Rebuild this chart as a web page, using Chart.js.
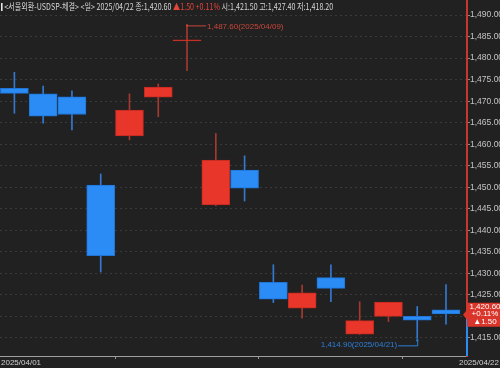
<!DOCTYPE html>
<html>
<head>
<meta charset="utf-8">
<script src="https://cdn.jsdelivr.net/npm/chart.js@4.4.1/dist/chart.umd.min.js"></script>
<style>
  body { margin: 0; background: #212121; }
  #wrap { position: relative; width: 500px; height: 368px; }
  #header {
    position: absolute; left: 1px; top: 0px;
    font: 9px "Noto Sans CJK KR", "Liberation Sans", sans-serif;
    color: #d6d6d6; white-space: nowrap; transform-origin: 0 0;
  }
  #header .mark { display: inline-block; width: 2px; height: 8px; background: #e8e8e8; margin-right: 2px; vertical-align: -1px; }
  #header .up { color: #e2453a; }
</style>
</head>
<body>
<div id="wrap">
  <canvas id="candle-chart"></canvas>
  <div id="header"></div>
</div>
<script>
const dates = [
  "2025/04/01", "2025/04/02", "2025/04/03", "2025/04/04", "2025/04/07",
  "2025/04/08", "2025/04/09", "2025/04/10", "2025/04/11", "2025/04/14",
  "2025/04/15", "2025/04/16", "2025/04/17", "2025/04/18", "2025/04/21",
  "2025/04/22",
];
const openVals = [1473.0, 1471.7, 1471.0, 1450.5, 1461.9, 1470.9, 1484.0, 1445.9, 1454.0, 1427.9, 1421.9, 1429.0, 1415.9, 1420.0, 1420.0, 1421.5];
const highVals = [1476.7, 1473.5, 1472.4, 1453.1, 1471.7, 1474.0, 1487.6, 1462.5, 1457.3, 1432.0, 1427.3, 1432.0, 1423.4, 1423.3, 1422.3, 1427.4];
const lowVals = [1467.2, 1464.9, 1463.3, 1430.3, 1461.0, 1466.4, 1477.1, 1445.7, 1446.8, 1423.2, 1419.6, 1423.4, 1415.8, 1418.8, 1414.9, 1418.2];
const closeVals = [1471.8, 1466.5, 1466.9, 1434.1, 1467.9, 1473.3, 1484.1, 1456.3, 1449.8, 1424.0, 1425.5, 1426.5, 1419.0, 1423.3, 1419.1, 1420.6];

const tickValues = [1415, 1420, 1425, 1430, 1435, 1440, 1445, 1450, 1455, 1460, 1465, 1470, 1475, 1480, 1485, 1490];
const yMin = 1410.8;
const yMax = 1493.5;

const upColor = "#e8372a";
const downColor = "#2b8cf6";
const upEdge = "#c22a1f";
const downEdge = "#1f74d6";
const upWick = "#a5392f";
const downWick = "#3479cf";
const tickFont = { family: "'Liberation Sans Narrow', 'Liberation Sans', sans-serif", size: 8.5 };

const fmt = (v) =>
  v.toLocaleString("en-US", { minimumFractionDigits: 2, maximumFractionDigits: 2 });

const isUp = closeVals.map((c, i) => c >= openVals[i]);
const last = closeVals.length - 1;
const change = closeVals[last] - closeVals[last - 1];
const changePct = (change / closeVals[last - 1]) * 100;

// week boundaries (mondays) get a tick mark on the date axis
const weekStarts = [];
dates.forEach((d, i) => {
  if (i > 0 && new Date(d.replace(/\//g, "-")).getDay() === 1) weekStarts.push(i - 0.5);
});

// HEADER

const header = document.getElementById("header");
header.innerHTML =
  '<span class="mark"></span>&lt;서울외환-USDSP-체결&gt; &lt;일&gt; ' + dates[last] +
  " 종:" + fmt(closeVals[last]) +
  ' <span class="up">' + (change >= 0 ? "▲" : "▼") + Math.abs(change).toFixed(2) +
  " " + (change >= 0 ? "+" : "") + changePct.toFixed(2) + "%</span>" +
  " 시:" + fmt(openVals[last]) + " 고:" + fmt(highVals[last]) + " 저:" + fmt(lowVals[last]);
header.style.transform = "scaleX(" + 332 / header.offsetWidth + ")";

// OVERLAY: price marker, high/low notes, date labels

const overlay = {
  id: "overlay",
  afterDraw(chart) {
    const { ctx, chartArea, scales } = chart;
    const x = scales.x;
    const y = scales.y;
    ctx.save();

    // lower part of price axis line is blue
    const cy = y.getPixelForValue(closeVals[last]);
    ctx.strokeStyle = downColor;
    ctx.lineWidth = 2;
    ctx.beginPath();
    ctx.moveTo(chartArea.right, cy);
    ctx.lineTo(chartArea.right, chartArea.bottom);
    ctx.stroke();

    // current price box
    ctx.fillStyle = "#d9352b";
    ctx.beginPath();
    ctx.moveTo(chartArea.right - 4, cy + 1);
    ctx.lineTo(chartArea.right, cy - 4);
    ctx.lineTo(chartArea.right, cy - 11);
    ctx.lineTo(500, cy - 11);
    ctx.lineTo(500, cy + 13);
    ctx.lineTo(chartArea.right, cy + 13);
    ctx.lineTo(chartArea.right, cy + 6);
    ctx.closePath();
    ctx.fill();
    ctx.fillStyle = "#ffffff";
    ctx.font = "8px " + tickFont.family;
    ctx.textAlign = "center";
    ctx.textBaseline = "middle";
    const bx = chartArea.right + 18;
    ctx.fillText(fmt(closeVals[last]), bx, cy - 7);
    ctx.fillText((change >= 0 ? "+" : "") + changePct.toFixed(2) + "%", bx, cy);
    ctx.fillText((change >= 0 ? "▲" : "▼") + Math.abs(change).toFixed(2), bx, cy + 8);

    // period high
    const hi = highVals.indexOf(Math.max(...highVals));
    const hx = x.getPixelForValue(hi);
    const hy = y.getPixelForValue(highVals[hi]);
    ctx.strokeStyle = "#c9463a";
    ctx.fillStyle = "#c9463a";
    ctx.lineWidth = 1;
    ctx.beginPath();
    ctx.moveTo(hx, hy + 0.5);
    ctx.lineTo(hx + 19, hy + 0.5);
    ctx.stroke();
    ctx.fillRect(hx - 1, hy - 1, 2, 2);
    ctx.textAlign = "left";
    ctx.fillText(fmt(highVals[hi]) + "(" + dates[hi] + ")", hx + 20, hy + 1);

    // period low
    const lo = lowVals.indexOf(Math.min(...lowVals));
    const lx = x.getPixelForValue(lo);
    const ly = y.getPixelForValue(lowVals[lo]);
    ctx.strokeStyle = "#2e7fd8";
    ctx.fillStyle = "#2e7fd8";
    ctx.beginPath();
    ctx.moveTo(lx + 0.5, ly + 1);
    ctx.lineTo(lx + 0.5, ly + 7.5);
    ctx.lineTo(lx - 19, ly + 7.5);
    ctx.stroke();
    ctx.fillRect(lx - 1, ly + 1, 2, 2);
    ctx.textAlign = "right";
    ctx.fillText(fmt(lowVals[lo]) + "(" + dates[lo] + ")", lx - 20, ly + 6.5);

    // first and last date under the axis
    ctx.fillStyle = "#d0d0d0";
    ctx.textBaseline = "middle";
    ctx.textAlign = "left";
    ctx.fillText(dates[0], 1, chartArea.bottom + 7);
    ctx.textAlign = "right";
    ctx.fillText(dates[last], 499, chartArea.bottom + 7);

    ctx.restore();
  },
};

// CHART

const ctx = document.getElementById("candle-chart");

new Chart(ctx, {
  type: "bar",
  data: {
    datasets: [
      {
        label: "body",
        data: dates.map((d, i) => ({ x: i, y: [openVals[i], closeVals[i]] })),
        backgroundColor: isUp.map((u) => (u ? upColor : downColor)),
        borderColor: isUp.map((u) => (u ? upEdge : downEdge)),
        borderWidth: 1,
        borderSkipped: false,
        barThickness: 28,
        minBarLength: 1,
        grouped: false,
      },
      {
        label: "wick",
        data: dates.map((d, i) => ({ x: i, y: [lowVals[i], highVals[i]] })),
        backgroundColor: isUp.map((u) => (u ? upWick : downWick)),
        barThickness: 1,
        grouped: false,
      },
    ],
  },
  options: {
    responsive: true,
    maintainAspectRatio: false,
    animation: false,
    layout: { padding: 0 },
    plugins: {
      legend: { display: false },
      tooltip: { enabled: false },
    },
    scales: {
      x: {
        type: "linear",
        offset: false,
        min: -0.5,
        max: dates.length - 0.27,
        afterBuildTicks: (scale) => {
          scale.ticks = weekStarts.map((v) => ({ value: v }));
        },
        afterFit: (scale) => {
          scale.height = 12;
          scale.paddingLeft = 0;
          scale.paddingRight = 0;
        },
        ticks: { display: false },
        grid: { offset: false, drawOnChartArea: false, drawTicks: true, tickLength: 3, tickColor: "#9a9a9a" },
        border: { color: "#a0a0a0", width: 1 },
      },
      y: {
        type: "linear",
        position: "right",
        min: yMin,
        max: yMax,
        afterBuildTicks: (scale) => {
          scale.ticks = tickValues.map((v) => ({ value: v }));
        },
        afterFit: (scale) => {
          scale.width = 33;
          scale.paddingTop = 0;
          scale.paddingBottom = 0;
        },
        ticks: {
          color: "#c4c4c4",
          font: tickFont,
          padding: 0,
          crossAlign: "near",
          callback: (v) => fmt(v),
        },
        grid: { color: "#3a3a3a", tickColor: "#8a8a8a", tickLength: 3 },
        border: { color: "#c9372c", width: 2, dash: [2, 3] },
      },
    },
  },
  plugins: [overlay],
});
</script>
</body>
</html>
